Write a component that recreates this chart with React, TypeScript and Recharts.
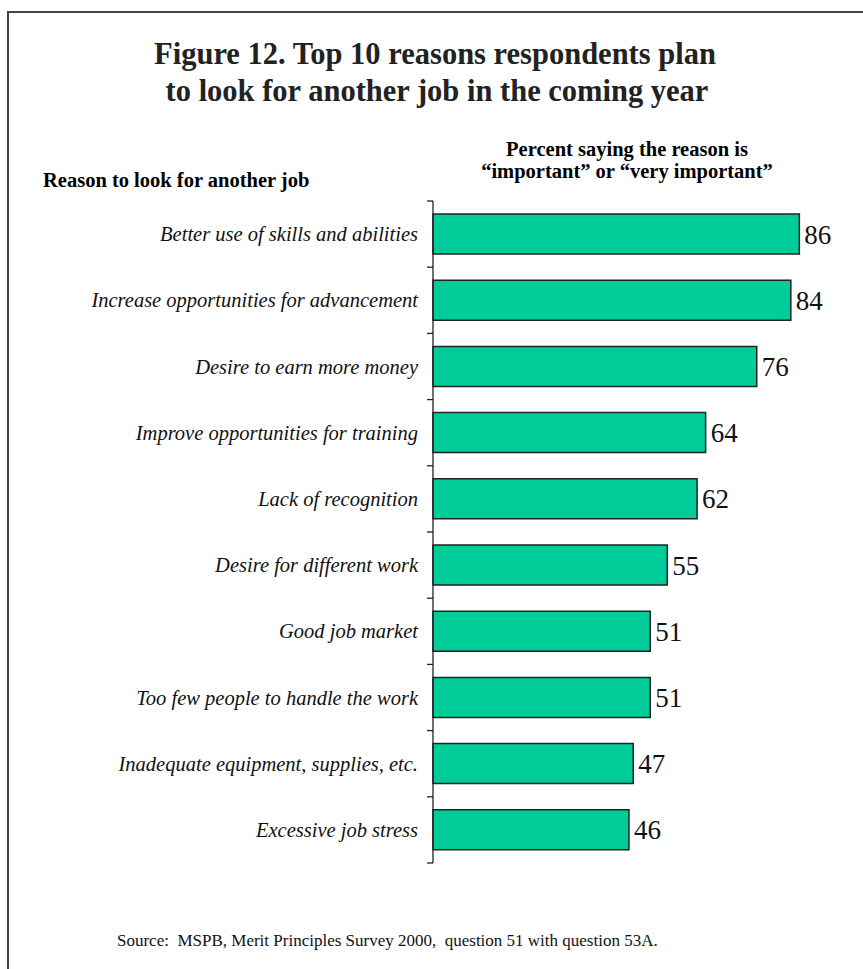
import React from "react";
import { BarChart, Bar, XAxis, YAxis, LabelList } from "recharts";

const reasons = [
  "Better use of skills and abilities",
  "Increase opportunities for advancement",
  "Desire to earn more money",
  "Improve opportunities for training",
  "Lack of recognition",
  "Desire for different work",
  "Good job market",
  "Too few people to handle the work",
  "Inadequate equipment, supplies, etc.",
  "Excessive job stress",
];
const percents = [86, 84, 76, 64, 62, 55, 51, 51, 47, 46];

const data = reasons.map((name, i) => ({ name, value: percents[i] }));

const SERIF = '"Liberation Serif", "Times New Roman", serif';

const CategoryTick = (props: any) => {
  const { x, y, payload, index } = props;
  const half = payload && typeof payload.offset === "number" && payload.offset > 0 ? payload.offset : 33.1;
  const ax = x;
  return (
    <g>
      <line x1={ax - 6} x2={ax} y1={y - half} y2={y - half} stroke="#222" strokeWidth={1.3} />
      {index === reasons.length - 1 && (
        <line x1={ax - 6} x2={ax} y1={y + half} y2={y + half} stroke="#222" strokeWidth={1.3} />
      )}
      <text
        x={ax - 15}
        y={y}
        dy={7}
        textAnchor="end"
        fontFamily={SERIF}
        fontStyle="italic"
        fontSize={20.5}
        fill="#111"
      >
        {payload.value}
      </text>
    </g>
  );
};

export default function App() {
  return (
    <div style={{ position: "absolute", left: 0, top: 0, width: 863, height: 969, background: "#fff" }}>
      <div
        style={{
          position: "absolute",
          left: 7,
          top: 11,
          width: 860,
          height: 970,
          borderTop: "2px solid #444",
          borderLeft: "2px solid #444",
        }}
      />
      <svg width={863} height={969} style={{ position: "absolute", left: 0, top: 0 }}>
        <text x={435} y={64} textAnchor="middle" fontFamily={SERIF} fontWeight="bold" fontSize={30.5} fill="#222">
          Figure 12. Top 10 reasons respondents plan
        </text>
        <text x={437} y={101} textAnchor="middle" fontFamily={SERIF} fontWeight="bold" fontSize={30.5} fill="#222">
          to look for another job in the coming year
        </text>
        <text x={43} y={187} fontFamily={SERIF} fontWeight="bold" fontSize={20.5} fill="#000">
          Reason to look for another job
        </text>
        <text x={627} y={156} textAnchor="middle" fontFamily={SERIF} fontWeight="bold" fontSize={20.5} fill="#000">
          Percent saying the reason is
        </text>
        <text x={627} y={178} textAnchor="middle" fontFamily={SERIF} fontWeight="bold" fontSize={20.5} fill="#000">
          “important” or “very important”
        </text>
        <text x={117} y={946} fontFamily={SERIF} fontSize={17} fill="#111" style={{ whiteSpace: "pre" }}>
          {"Source:  MSPB, Merit Principles Survey 2000,  question 51 with question 53A."}
        </text>
      </svg>
      <div style={{ position: "absolute", left: 0, top: 0 }}>
        <BarChart
          width={863}
          height={969}
          data={data}
          layout="vertical"
          margin={{ top: 201, right: 4, bottom: 106, left: 0 }}
          barCategoryGap={13}
        >
          <XAxis type="number" domain={[0, 100]} hide />
          <YAxis
            type="category"
            dataKey="name"
            width={433}
            axisLine={{ stroke: "#222", strokeWidth: 1.3 }}
            tickLine={false}
            tickSize={0}
            tickMargin={0}
            tick={<CategoryTick />}
            interval={0}
          />
          <Bar dataKey="value" fill="#00CC99" stroke="#222" strokeWidth={1.5} barSize={40} isAnimationActive={false}>
            <LabelList dataKey="value" position="right" offset={5} fontFamily={SERIF} fontSize={27} fill="#111" />
          </Bar>
        </BarChart>
      </div>
    </div>
  );
}
